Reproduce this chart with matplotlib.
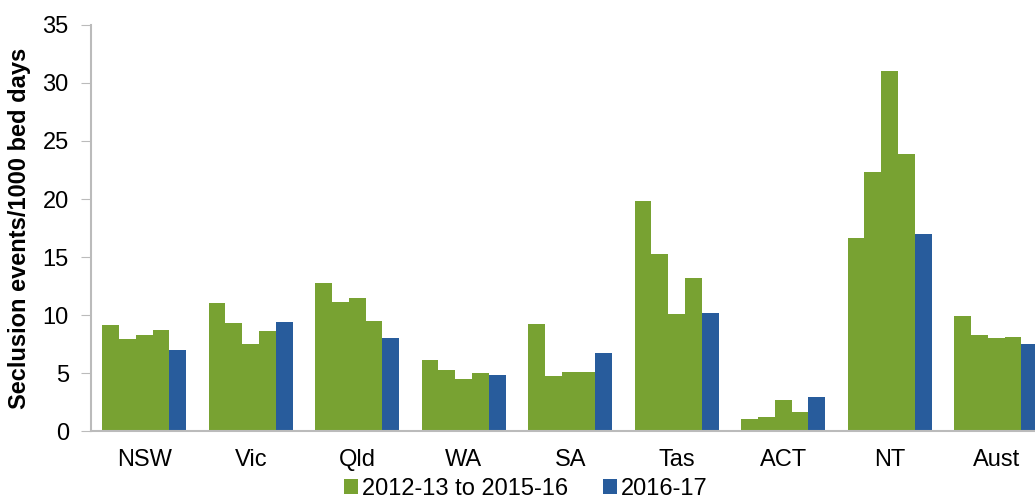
import matplotlib
matplotlib.use('Agg')
import matplotlib.pyplot as plt
import numpy as np

# Seclusion events per 1000 bed days by jurisdiction
regions = ['NSW', 'Vic', 'Qld', 'WA', 'SA', 'Tas', 'ACT', 'NT', 'Aust']
y2012_13 = [9.1, 11.0, 12.8, 6.1, 9.2, 19.8, 1.0, 16.6, 9.9]
y2013_14 = [7.9, 9.3, 11.1, 5.3, 4.7, 15.3, 1.2, 22.3, 8.3]
y2014_15 = [8.3, 7.5, 11.5, 4.5, 5.1, 10.1, 2.7, 31.0, 8.0]
y2015_16 = [8.7, 8.6, 9.5, 5.0, 5.1, 13.2, 1.6, 23.9, 8.1]
y2016_17 = [7.0, 9.4, 8.0, 4.8, 6.7, 10.2, 2.9, 17.0, 7.5]

green = '#78A232'
blue = '#285C9C'

plt.rcParams['font.family'] = ['Liberation Sans', 'DejaVu Sans']

fig = plt.figure(figsize=(10.35, 5), dpi=100)
ax = fig.add_axes([0.0879, 0.138, 0.926, 0.812])

x = np.arange(len(regions))
w = 0.158
series = [y2012_13, y2013_14, y2014_15, y2015_16, y2016_17]
for i, vals in enumerate(series):
    col = blue if i == 4 else green
    lab = None
    if i == 0:
        lab = '2012-13 to 2015-16'
    elif i == 4:
        lab = '2016-17'
    ax.bar(x + (i - 2) * w, vals, width=w, color=col, label=lab, linewidth=0)

ax.set_xlim(-0.5, len(regions) - 0.5)
ax.set_ylim(0, 35)
ax.set_yticks(np.arange(0, 36, 5))
ax.set_xticks(x)
ax.set_xticklabels(regions)
ax.tick_params(axis='y', labelsize=17, length=7, color='#BBBBBB', direction='out', pad=9)
ax.tick_params(axis='x', labelsize=17, length=0, pad=13)
for s in ['top', 'right']:
    ax.spines[s].set_visible(False)
for s in ['left', 'bottom']:
    ax.spines[s].set_color('#BBBBBB')
    ax.spines[s].set_linewidth(1.5)

ax.set_ylabel('Seclusion events/1000 bed days', fontsize=17, fontweight='bold', labelpad=8)

fig.legend(loc='center', bbox_to_anchor=(0.508, 0.022), ncol=2, frameon=False,
           fontsize=17, handlelength=0.6, handleheight=0.6, handletextpad=0.15,
           columnspacing=1.5, borderpad=0)

fig.savefig('out.png', dpi=100, facecolor='white')
